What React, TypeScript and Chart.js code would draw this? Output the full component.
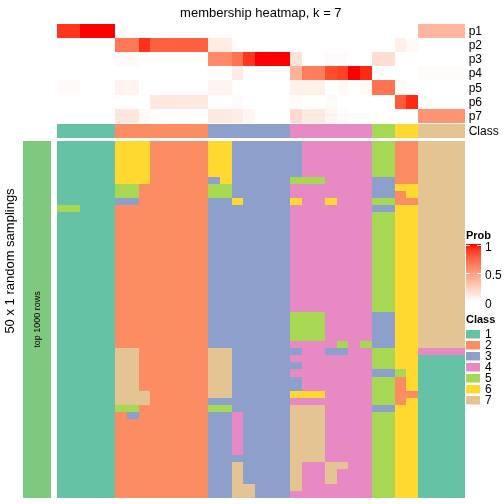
import React, { useEffect, useRef } from 'react';
import { Chart, registerables } from 'chart.js';

Chart.register(...registerables);

const memberRows = ['p1', 'p2', 'p3', 'p4', 'p5', 'p6', 'p7'];
const classIds = ['1', '2', '3', '4', '5', '6', '7'];
const classColors = ['#66C2A5', '#FC8D62', '#8DA0CB', '#E78AC3', '#A6D854', '#FFD92F', '#E5C494'];
const probTicks = [1, 0.5, 0];
const probTickLabels = ['1', '0.5', '0'];

const columnClass = [1, 1, 1, 1, 1, 2, 2, 2, 2, 2, 2, 2, 2, 3, 3, 3, 3, 3, 3, 3, 4, 4, 4, 4, 4, 4, 4, 5, 5, 6, 6, 7, 7, 7, 7];

const p1 = [0.92, 0.92, 1, 1, 1, 0, 0, 0, 0, 0, 0, 0, 0, 0, 0, 0, 0, 0, 0, 0, 0, 0, 0, 0, 0, 0, 0, 0, 0, 0, 0, 0.38, 0.38, 0.38, 0.38];
const p2 = [0, 0, 0, 0, 0, 0.68, 0.68, 0.93, 0.78, 0.78, 0.78, 0.78, 0.78, 0.1, 0.1, 0, 0, 0, 0, 0, 0, 0, 0, 0, 0, 0, 0, 0, 0, 0.08, 0.03, 0, 0, 0, 0];
const p3 = [0, 0, 0, 0, 0, 0.03, 0.03, 0, 0, 0, 0, 0, 0, 0.6, 0.6, 0.7, 0.92, 1, 1, 1, 0.15, 0, 0, 0.02, 0.02, 0, 0, 0.18, 0.18, 0, 0, 0, 0, 0, 0];
const p4 = [0, 0, 0, 0, 0, 0, 0, 0, 0, 0, 0, 0, 0, 0, 0, 0.1, 0, 0, 0, 0, 0.4, 0.65, 0.65, 0.85, 0.88, 1, 0.95, 0, 0, 0, 0, 0.02, 0.02, 0.02, 0.02];
const p5 = [0.02, 0.02, 0, 0, 0, 0.06, 0.06, 0, 0, 0, 0, 0, 0, 0.06, 0.06, 0, 0, 0, 0, 0, 0.08, 0.08, 0.08, 0, 0.03, 0, 0.03, 0.7, 0.7, 0.03, 0, 0, 0, 0, 0];
const p6 = [0, 0, 0, 0, 0, 0, 0, 0, 0.12, 0.12, 0.12, 0.12, 0.12, 0, 0, 0.02, 0, 0, 0, 0, 0.02, 0, 0, 0.03, 0, 0, 0, 0, 0, 0.8, 0.95, 0, 0, 0, 0];
const p7 = [0, 0, 0, 0, 0, 0.13, 0.13, 0.03, 0, 0, 0, 0, 0, 0.11, 0.11, 0.1, 0.04, 0, 0, 0, 0.2, 0.11, 0.11, 0.05, 0.02, 0, 0, 0, 0, 0, 0, 0.55, 0.55, 0.55, 0.55];

// 50 random samplings x 35 columns, class id per cell
const samplings = [
  '11111 666 22222 66 3 3 333 3 44 4 4 4 4 55 2 2 7777',
  '11111 666 22222 66 3 3 333 3 44 4 4 4 4 55 2 2 7777',
  '11111 666 22222 66 3 3 333 3 44 4 4 4 4 55 2 2 7777',
  '11111 666 22222 66 3 3 333 3 44 4 4 4 4 55 2 2 7777',
  '11111 666 22222 66 3 3 333 3 44 4 4 4 4 55 2 2 7777',
  '11111 666 22222 36 3 3 333 5 55 4 4 4 4 33 2 2 7777',
  '11111 552 22222 55 3 3 333 4 44 4 4 4 4 33 6 6 7777',
  '11111 552 22222 55 3 3 333 4 44 4 4 4 4 33 2 6 7777',
  '11111 332 22222 33 6 3 333 6 44 6 4 4 4 55 2 2 7777',
  '55111 222 22222 33 3 3 333 4 44 4 4 4 4 33 6 6 7777',
  '11111 222 22222 33 3 3 333 4 44 4 4 4 4 55 6 6 7777',
  '11111 222 22222 33 3 3 333 4 44 4 4 4 4 55 6 6 7777',
  '11111 222 22222 33 3 3 333 4 44 4 4 4 4 55 6 6 7777',
  '11111 222 22222 33 3 3 333 4 44 4 4 4 4 55 6 6 7777',
  '11111 222 22222 33 3 3 333 4 44 4 4 4 4 55 6 6 7777',
  '11111 222 22222 33 3 3 333 4 44 4 4 4 4 55 6 6 7777',
  '11111 222 22222 33 3 3 333 4 44 4 4 4 4 55 6 6 7777',
  '11111 222 22222 33 3 3 333 4 44 4 4 4 4 55 6 6 7777',
  '11111 222 22222 33 3 3 333 4 44 4 4 4 4 55 6 6 7777',
  '11111 222 22222 33 3 3 333 4 44 4 4 4 4 55 6 6 7777',
  '11111 222 22222 33 3 3 333 4 44 4 4 4 4 55 6 6 7777',
  '11111 222 22222 33 3 3 333 4 44 4 4 4 4 55 6 6 7777',
  '11111 222 22222 33 3 3 333 4 44 4 4 4 4 55 6 6 7777',
  '11111 222 22222 33 3 3 333 4 44 4 4 4 4 55 6 6 7777',
  '11111 222 22222 33 3 3 333 5 55 4 4 4 4 33 6 6 7777',
  '11111 222 22222 33 3 3 333 5 55 4 4 4 4 33 6 6 7777',
  '11111 222 22222 33 3 3 333 5 55 4 4 4 4 33 6 6 7777',
  '11111 222 22222 33 3 3 333 5 55 4 4 4 4 33 6 6 7777',
  '11111 222 22222 33 3 3 333 4 44 4 5 4 5 33 6 6 7777',
  '11111 772 22222 77 3 3 333 3 44 3 3 4 4 55 6 6 4444',
  '11111 772 22222 77 3 3 333 4 44 4 4 4 4 55 6 6 1111',
  '11111 772 22222 77 3 3 333 3 44 4 4 4 4 55 6 6 1111',
  '11111 772 22222 77 3 3 333 4 44 4 4 4 4 33 5 6 1111',
  '11111 772 22222 77 3 3 333 3 44 4 4 4 4 55 2 6 1111',
  '11111 772 22222 77 3 3 333 3 44 4 4 4 4 55 2 6 1111',
  '11111 777 22222 77 3 3 333 6 66 4 4 4 4 55 2 2 1111',
  '11111 777 22222 33 3 3 333 4 44 4 4 4 4 55 2 6 1111',
  '11111 552 22222 55 3 3 333 7 77 4 4 4 4 33 6 6 1111',
  '11111 232 22222 33 4 3 333 7 77 4 4 4 4 55 6 6 1111',
  '11111 222 22222 33 4 3 333 7 77 4 4 4 4 55 6 6 1111',
  '11111 222 22222 33 4 3 333 7 77 4 4 4 4 55 6 6 1111',
  '11111 222 22222 33 4 3 333 7 77 4 4 4 4 55 6 6 1111',
  '11111 222 22222 33 4 3 333 7 77 4 4 4 4 55 6 6 1111',
  '11111 222 22222 33 4 3 333 7 77 4 4 4 4 55 6 6 1111',
  '11111 222 22222 33 3 3 333 7 77 4 4 4 4 55 6 6 1111',
  '11111 222 22222 33 7 3 333 7 44 7 7 4 4 55 6 6 1111',
  '11111 222 22222 33 7 3 333 7 44 7 4 4 4 55 6 6 1111',
  '11111 222 22222 33 7 3 333 7 44 7 4 4 4 55 6 6 1111',
  '11111 222 22222 33 7 7 333 7 44 4 4 4 4 55 6 6 1111',
  '11111 222 22222 33 7 7 333 4 44 4 4 4 4 55 6 6 1111',
];

const titleText = 'membership heatmap, k = 7';
const rowTitleText = '50 x 1 random samplings';
const sliceText = 'top 1000 rows';

const membership = [p1, p2, p3, p4, p5, p6, p7];
const nCols = columnClass.length;

// LAB interpolation white -> red
const RED_LAB = [53.2408, 80.0925, 67.2032];
function labToRgb(L: number, a: number, b: number): string {
  let y = (L + 16) / 116;
  let x = a / 500 + y;
  let z = y - b / 200;
  const f = (t: number) => (t * t * t > 0.008856 ? t * t * t : (t - 16 / 116) / 7.787);
  x = 0.95047 * f(x);
  y = 1.0 * f(y);
  z = 1.08883 * f(z);
  const r = x * 3.2406 + y * -1.5372 + z * -0.4986;
  const g = x * -0.9689 + y * 1.8758 + z * 0.0415;
  const bb = x * 0.0557 + y * -0.204 + z * 1.057;
  const gam = (c: number) => (c > 0.0031308 ? 1.055 * Math.pow(c, 1 / 2.4) - 0.055 : 12.92 * c);
  const v = [r, g, bb].map((c) => Math.round(Math.max(0, Math.min(1, gam(c))) * 255));
  return `rgb(${v[0]},${v[1]},${v[2]})`;
}
function probColor(p: number): string {
  return labToRgb(100 + (RED_LAB[0] - 100) * p, RED_LAB[1] * p, RED_LAB[2] * p);
}

const FONT = '"Liberation Sans", Arial, Helvetica, sans-serif';

// vertical layout in y-scale units (pixels below chart top)
const MEM_ROW_H = 14.1;
const CLASS_Y0 = 100;
const CLASS_Y1 = 114;
const SAMP_Y0 = 117;
const SAMP_Y1 = 474;

const heatmapPlugin = {
  id: 'heatmapPlugin',
  afterDraw(chart: any) {
    const ctx: CanvasRenderingContext2D = chart.ctx;
    const xs = chart.scales.x;
    const ys = chart.scales.y;
    const px = (c: number) => Math.round(xs.getPixelForValue(c));
    const py = (v: number) => Math.round(ys.getPixelForValue(v));
    ctx.save();

    // membership heatmap
    membership.forEach((row, r) => {
      const y0 = py(r * MEM_ROW_H);
      const y1 = py((r + 1) * MEM_ROW_H);
      row.forEach((p, c) => {
        ctx.fillStyle = probColor(p);
        ctx.fillRect(px(c), y0, px(c + 1) - px(c), y1 - y0);
      });
    });

    // class annotation row
    {
      const y0 = py(CLASS_Y0);
      const y1 = py(CLASS_Y1);
      columnClass.forEach((k, c) => {
        ctx.fillStyle = classColors[k - 1];
        ctx.fillRect(px(c), y0, px(c + 1) - px(c), y1 - y0);
      });
    }

    // sampling heatmap
    const rows = samplings.map((s) => s.replace(/ /g, ''));
    const rh = (SAMP_Y1 - SAMP_Y0) / rows.length;
    rows.forEach((s, r) => {
      const y0 = py(SAMP_Y0 + r * rh);
      const y1 = py(SAMP_Y0 + (r + 1) * rh);
      for (let c = 0; c < nCols; c++) {
        const k = parseInt(s[c], 10);
        ctx.fillStyle = classColors[k - 1];
        ctx.fillRect(px(c), y0, px(c + 1) - px(c), y1 - y0);
      }
    });

    // left slice bar
    const sy0 = py(SAMP_Y0);
    const sy1 = py(SAMP_Y1);
    ctx.fillStyle = '#7FC97F';
    ctx.fillRect(23, sy0, 28, sy1 - sy0);

    ctx.fillStyle = '#000';
    // slice label
    ctx.save();
    ctx.translate(38, (sy0 + sy1) / 2);
    ctx.rotate(-Math.PI / 2);
    ctx.font = `9px ${FONT}`;
    ctx.textAlign = 'center';
    ctx.textBaseline = 'middle';
    ctx.fillText(sliceText, 0, 0);
    ctx.restore();

    // row title
    ctx.save();
    ctx.translate(10, (py(0) + sy1) / 2);
    ctx.rotate(-Math.PI / 2);
    ctx.font = `13px ${FONT}`;
    ctx.textAlign = 'center';
    ctx.textBaseline = 'middle';
    ctx.fillText(rowTitleText, 0, 0);
    ctx.restore();

    // title
    ctx.font = `13px ${FONT}`;
    ctx.textAlign = 'center';
    ctx.textBaseline = 'alphabetic';
    ctx.fillText(titleText, (xs.left + xs.right) / 2, 17);

    // row labels
    const labX = xs.right + 4;
    ctx.font = `12px ${FONT}`;
    ctx.textAlign = 'left';
    ctx.textBaseline = 'middle';
    memberRows.forEach((lab, r) => {
      ctx.fillText(lab, labX, (py(r * MEM_ROW_H) + py((r + 1) * MEM_ROW_H)) / 2 + 1);
    });
    ctx.fillText('Class', labX, (py(CLASS_Y0) + py(CLASS_Y1)) / 2 + 1);

    // Prob legend
    const lx = 466;
    ctx.font = `bold 11px ${FONT}`;
    ctx.fillText('Prob', lx, 236);
    const gTop = 245;
    const gBot = 301.6;
    for (let yy = gTop - 1; yy < gBot; yy++) {
      const v = Math.max(0, Math.min(1, 1 - (yy + 0.5 - gTop) / (gBot - gTop)));
      ctx.fillStyle = probColor(v);
      ctx.fillRect(lx, yy, 15, 1);
    }
    ctx.strokeStyle = '#fff';
    ctx.lineWidth = 1;
    probTicks.forEach((t, i) => {
      const ty = Math.round(gTop + (1 - t) * (gBot - gTop)) + 0.5;
      ctx.beginPath();
      ctx.moveTo(lx, ty);
      ctx.lineTo(lx + 4, ty);
      ctx.moveTo(lx + 11, ty);
      ctx.lineTo(lx + 15, ty);
      ctx.stroke();
      ctx.fillStyle = '#000';
      ctx.font = `12px ${FONT}`;
      ctx.fillText(probTickLabels[i], lx + 19, ty + 2.5);
    });

    // Class legend
    ctx.fillStyle = '#000';
    ctx.font = `bold 11px ${FONT}`;
    ctx.fillText('Class', lx, 320);
    classIds.forEach((lab, i) => {
      const top = 330 + i * 11;
      ctx.fillStyle = classColors[i];
      ctx.fillRect(lx, top, 14, 8.5);
      ctx.fillStyle = '#000';
      ctx.font = `12px ${FONT}`;
      ctx.fillText(lab, lx + 19, top + 5);
    });

    ctx.restore();
  },
};

export default function App() {
  const ref = useRef<HTMLCanvasElement>(null);
  useEffect(() => {
    const canvas = ref.current;
    if (!canvas) return;
    const chart = new Chart(canvas, {
      type: 'scatter',
      data: { datasets: [] },
      options: {
        responsive: false,
        animation: false,
        devicePixelRatio: 1,
        layout: { padding: { left: 57, right: 504 - 464.7, top: 24, bottom: 6 } },
        scales: {
          x: { type: 'linear', min: 0, max: nCols, display: false },
          y: { type: 'linear', min: 0, max: SAMP_Y1, reverse: true, display: false },
        },
        plugins: { legend: { display: false }, tooltip: { enabled: false }, title: { display: false } },
      },
      plugins: [heatmapPlugin],
    } as any);
    return () => chart.destroy();
  }, []);
  return (
    <div style={{ position: 'absolute', left: 0, top: 0, width: 504, height: 504, background: '#fff' }}>
      <canvas ref={ref} width={504} height={504} style={{ display: 'block', width: 504, height: 504 }} />
    </div>
  );
}
